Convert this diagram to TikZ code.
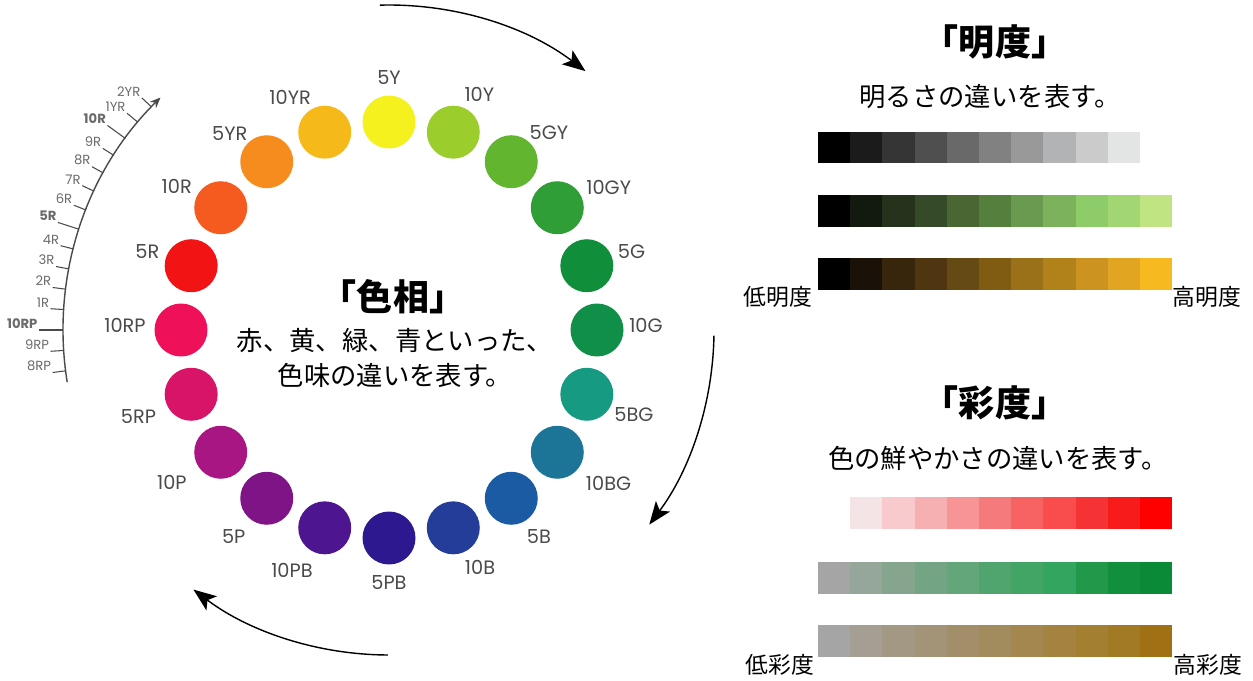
\documentclass[tikz,border=0pt]{standalone}
\usepackage{fontspec}
\usepackage{tikz}
\usetikzlibrary{arrows.meta, calc, positioning}
\usepackage{xcolor}

\newfontfamily\jp{Noto Sans CJK JP}
\newfontfamily\lab{Poppins}

\definecolor{labgray}{HTML}{4A4A4A}
\definecolor{scalegray}{HTML}{6A6A6A}

\tikzset{
  hue/.style={circle, minimum size=1.06cm, inner sep=0pt},
  huelabel/.style={font=\lab\fontsize{11}{12}\selectfont, text=labgray, inner sep=0pt},
  ticklabel/.style={text=scalegray, inner sep=0.6pt, anchor=south east},
  title/.style={font=\jp\bfseries\fontsize{20.5}{22}\selectfont},
  jptext/.style={font=\jp\fontsize{15}{20}\selectfont},
  endtext/.style={font=\jp\fontsize{13}{15}\selectfont},
  bigarrow/.style={-{Stealth[length=13pt,width=10pt,inset=3pt]}, line width=0.8pt},
}

\begin{document}
\begin{tikzpicture}[x=0.02cm, y=0.02cm]
  \useasboundingbox (0,0) rectangle (1253,680);
  \coordinate (wheel) at (389,350);

  % hue circles
  \foreach \nm/\a/\la/\lr/\hx in {
      5Y/90/90/252/F4F11E, 10Y/72/69/252/9BCD2C, 5GY/54/51/254/62B52E,
      10GY/36/33/262/2F9E36, 5G/18/18/255/118E3A, 10G/0/1/257/108F48,
      5BG/-18/-19/259/169A82, 10BG/-36/-35/268/1C7596, 5B/-54/-54/255/1B5BA4,
      10B/-72/-69/254/243D98, 5PB/-90/-90/253/2E1890, 10PB/-108/-112/259/4D1690,
      5P/-126/-127/258/7E1486, 10P/-144/-145/265/A81684, 5RP/-162/-161/265/D81468,
      10RP/180/179/264/EE1058, 5R/162/162/254/F21414, 10R/144/146/256/F55A1E,
      5YR/126/129/253/F78C1E, 10YR/108/113/253/F5BA1A} {
      \definecolor{huecol}{HTML}{\hx}
      \node[hue, fill=huecol] (h\nm) at ($(wheel)+(\a:208)$) {};
      \node[huelabel] (t\nm) at ($(wheel)+(\la:\lr)$) {\nm};
    }

  % scale on the left
  \draw[line width=0.8pt, scalegray!70!black, -{Stealth[length=6pt,width=5pt]}]
    ($(wheel)+(189.2:326)$) arc[start angle=189.2, end angle=134.5, radius=6.52cm];
  \foreach \s/\len/\wt [count=\k from 0] in {
      2YR/13/\mdseries, 1YR/14/\mdseries, 10R/22/\bfseries, 9R/13/\mdseries,
      8R/13/\mdseries, 7R/13/\mdseries, 6R/13/\mdseries, 5R/22/\bfseries,
      4R/13/\mdseries, 3R/13/\mdseries, 2R/13/\mdseries, 1R/13/\mdseries,
      10RP/24/\bfseries, 9RP/13/\mdseries, 8RP/13/\mdseries} {
      \pgfmathsetmacro\ang{136.8+3.6*\k}
      \draw[line width=0.6pt, scalegray!70!black] ($(wheel)+(\ang:326)$) -- ($(wheel)+(\ang:326+\len)$)
        node[ticklabel, font=\lab\wt\fontsize{7.5}{8}\selectfont] (s\k) {\s};
    }

  % arrows round the wheel
  \draw[bigarrow] ($(wheel)+(91.6:325)$) arc[start angle=91.6, end angle=52.8, radius=6.5cm];
  \draw[bigarrow] ($(wheel)+(-1:325)$) arc[start angle=-1, end angle=-36.8, radius=6.5cm];
  \draw[bigarrow] ($(wheel)+(-90.2:325)$) arc[start angle=-90.2, end angle=-127, radius=6.5cm];

  % hue text
  \node[title] (hueTitle) at (393,383) {「色相」};
  \node[jptext, align=center] (hueDesc) at (395,322) {赤、黄、緑、青といった、\\色味の違いを表す。};

  % value
  \node[title] (valTitle) at (995,638) {「明度」};
  \node[jptext] (valDesc) at (990,583) {明るさの違いを表す。};
  \foreach \hx [count=\i from 0] in {000000,1B1B1B,353535,4F4F4F,696969,818181,999999,B2B3B4,CBCBCB,E3E4E4} {
      \definecolor{cell}{HTML}{\hx}
      \fill[cell] (818+32.2*\i,517) rectangle ++(32.2,31);
    }
  \foreach \hx [count=\i from 0] in {000000,121A0F,25331C,344A28,4A6633,557F3C,6A9A4F,7DB25C,8ECB69,A1D672,C1E483} {
      \definecolor{cell}{HTML}{\hx}
      \fill[cell] (818+32.2*\i,453) rectangle ++(32.2,32);
    }
  \foreach \hx [count=\i from 0] in {000000,1A1208,37260C,4F3610,664A14,7F5C12,9A7018,B1821A,CC9320,E1A521,F6B920} {
      \definecolor{cell}{HTML}{\hx}
      \fill[cell] (818+32.2*\i,390) rectangle ++(32.2,32);
    }
  \node[endtext] (lowVal) at (778,383) {低明度};
  \node[endtext] (highVal) at (1207,383) {高明度};

  % chroma
  \node[title] (chrTitle) at (995,277) {「彩度」};
  \node[jptext] (chrDesc) at (998,222) {色の鮮やかさの違いを表す。};
  \foreach \hx [count=\i from 1] in {F4E4E6,F8CACD,F6B0B2,F69496,F47A7C,F76263,F84C4D,F53335,F71C1B,FE0000} {
      \definecolor{cell}{HTML}{\hx}
      \fill[cell] (818+32.2*\i,151) rectangle ++(32.2,32);
    }
  \foreach \hx [count=\i from 0] in {A5A5A5,95A69A,85A58F,73A483,63A679,50A56F,43A565,34A55F,21984A,128F3D,0A8A36} {
      \definecolor{cell}{HTML}{\hx}
      \fill[cell] (818+32.2*\i,86) rectangle ++(32.2,32);
    }
  \foreach \hx [count=\i from 0] in {A5A5A5,A49F92,A39884,A39477,A28F69,A28C5D,A3874E,A3833F,A37F31,A17A23,A07014} {
      \definecolor{cell}{HTML}{\hx}
      \fill[cell] (818+32.2*\i,23) rectangle ++(32.2,32);
    }
  \node[endtext] (lowChr) at (780,15) {低彩度};
  \node[endtext] (highChr) at (1208,15) {高彩度};
\end{tikzpicture}
\end{document}
